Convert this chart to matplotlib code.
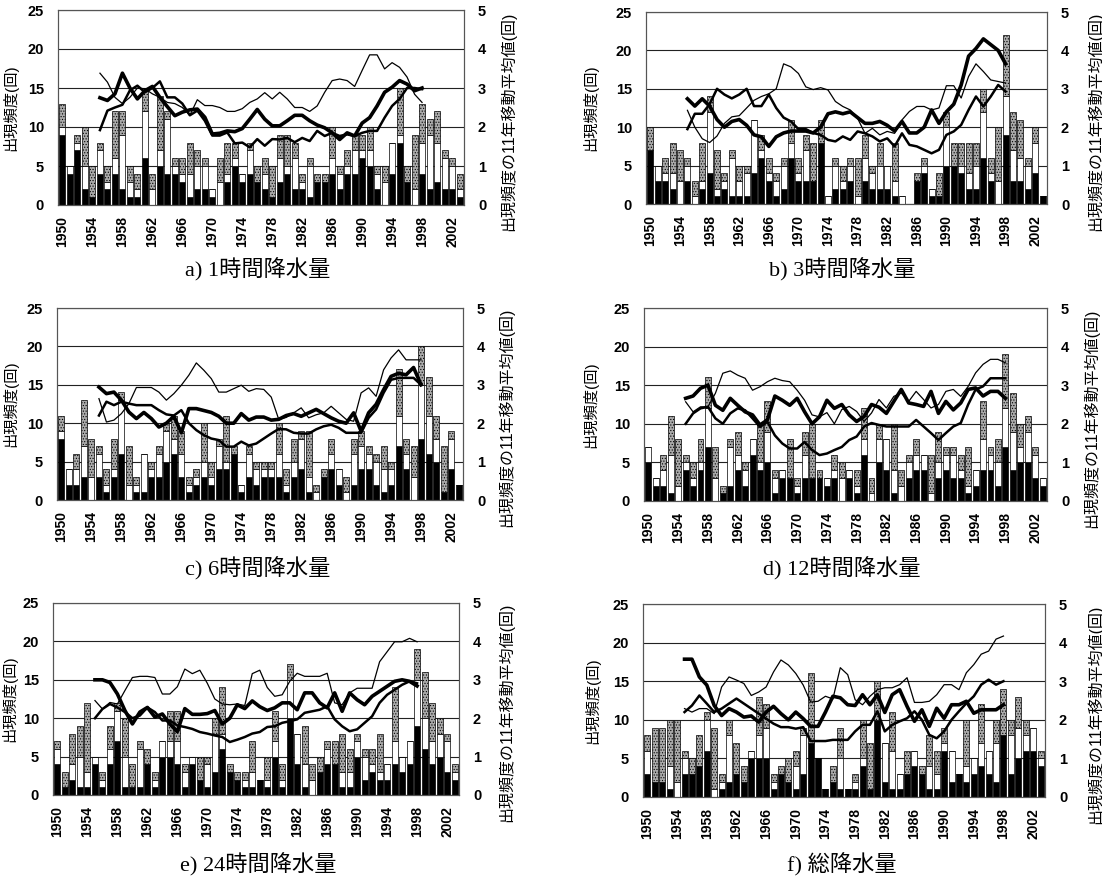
import numpy as np
import matplotlib
matplotlib.use("Agg")
import matplotlib.pyplot as plt

plt.rcParams['font.family'] = ['Liberation Sans', 'Noto Sans CJK JP']
plt.rcParams['font.weight'] = 'bold'
plt.rcParams['hatch.color'] = '#6a6a6a'
plt.rcParams['hatch.linewidth'] = 0.5

years = list(range(1950, 2004))
ma_years = list(range(1955, 1999))
tick_years = list(range(1950, 2004, 4))

# a) 1時間降水量
a_black = [9, 4, 7, 2, 1, 4, 2, 4, 2, 1, 1, 6, 0, 5, 4, 4, 3, 1, 2, 2, 1, 0, 3, 5, 3, 4, 3, 2, 1, 3,
           4, 2, 2, 1, 3, 3, 4, 2, 4, 4, 6, 5, 2, 0, 4, 8, 3, 0, 4, 2, 3, 2, 2, 1]
a_white = [1, 1, 1, 3, 0, 3, 1, 2, 7, 2, 1, 6, 2, 2, 7, 1, 1, 3, 3, 3, 1, 3, 1, 1, 1, 3, 0, 2, 0, 3,
           1, 4, 1, 4, 0, 0, 2, 2, 1, 3, 1, 2, 2, 3, 4, 1, 0, 2, 4, 7, 5, 4, 3, 1]
a_gray = [3, 0, 1, 5, 4, 1, 2, 6, 3, 2, 2, 3, 2, 7, 1, 1, 2, 4, 2, 1, 0, 3, 4, 2, 0, 1, 2, 2, 4, 3,
          4, 2, 1, 1, 1, 1, 4, 1, 2, 2, 2, 3, 1, 2, 0, 6, 2, 7, 5, 2, 4, 1, 1, 2]
a_thin = [3.38, 3.15, 2.76, 2.6, 2.76, 3.0, 2.98, 2.85, 2.76, 2.63,
          2.6, 2.5, 2.3, 2.7, 2.55, 2.55, 2.5, 2.4, 2.4, 2.47,
          2.63, 2.72, 2.88, 2.72, 2.89, 2.72, 2.5, 2.5, 2.4, 2.54,
          2.89, 3.19, 3.23, 3.19, 3.04, 3.45, 3.85, 3.85, 3.49, 3.65,
          3.53, 3.28, 2.84, 2.63]
a_mid = [1.92, 2.42, 2.5, 2.57, 2.94, 3.06, 2.89, 3.0, 3.17, 2.76,
         2.76, 2.6, 2.3, 2.42, 2.16, 1.78, 1.78, 1.86, 1.58, 1.6,
         1.48, 1.69, 1.52, 1.69, 1.68, 1.72, 1.61, 1.72, 1.64, 1.9,
         1.77, 1.85, 1.77, 1.81, 1.77, 1.85, 1.9, 1.9, 2.24, 2.54,
         2.72, 3.0, 3.0, 2.97]
a_thick = [2.75, 2.68, 2.85, 3.38, 3.0, 2.72, 2.93, 3.04, 2.76, 2.52,
           2.29, 2.38, 2.44, 2.46, 2.25, 1.82, 1.84, 1.9, 1.88, 1.96,
           2.2, 2.45, 2.2, 2.03, 2.03, 2.16, 2.3, 2.3, 2.16, 2.05,
           1.98, 1.85, 1.68, 1.85, 1.77, 2.1, 2.24, 2.54, 2.89, 3.02,
           3.19, 3.1, 2.93, 3.0]

# b) 3時間降水量
b_black = [7, 3, 3, 2, 0, 3, 0, 2, 4, 1, 2, 1, 1, 1, 4, 6, 3, 1, 2, 6, 3, 3, 3, 8, 0, 2, 2, 3, 0, 3,
           2, 2, 2, 1, 0, 0, 3, 4, 1, 1, 5, 5, 4, 2, 2, 6, 3, 0, 9, 3, 3, 2, 4, 1]
b_white = [0, 2, 1, 2, 3, 2, 1, 1, 8, 1, 1, 5, 2, 3, 7, 1, 1, 2, 3, 2, 1, 4, 0, 0, 1, 3, 1, 2, 1, 3,
           2, 3, 3, 2, 1, 0, 0, 1, 1, 0, 5, 0, 1, 2, 3, 6, 1, 3, 5, 4, 3, 3, 4, 0]
b_gray = [3, 0, 2, 4, 4, 1, 2, 5, 2, 5, 1, 1, 2, 1, 0, 2, 2, 1, 1, 3, 2, 2, 5, 3, 0, 1, 2, 1, 5, 3,
          1, 3, 0, 5, 0, 0, 1, 1, 0, 3, 2, 3, 3, 4, 3, 3, 2, 7, 8, 5, 5, 1, 2, 0]
b_thin = [2.44, 2.0, 1.7, 1.6, 1.77, 2.1, 2.27, 2.3, 2.5, 2.7,
          2.8, 2.87, 3.0, 3.65, 3.57, 3.4, 3.05, 2.98, 3.03, 2.97,
          2.67, 2.54, 2.45, 2.23, 1.84, 1.97, 1.8, 1.89, 1.84, 2.19,
          2.41, 2.54, 2.54, 2.45, 2.5, 3.08, 3.08, 2.76, 3.32, 3.65,
          3.45, 3.23, 3.19, 3.15]
b_mid = [1.95, 2.35, 2.35, 2.6, 3.0, 2.85, 2.75, 2.85, 3.0, 2.55,
         2.55, 2.85, 2.5, 2.25, 2.15, 1.95, 1.95, 1.85, 1.8, 1.67,
         1.63, 1.76, 1.67, 1.89, 1.84, 1.76, 1.63, 1.71, 1.5, 1.84,
         1.54, 1.5, 1.41, 1.32, 1.41, 1.8, 1.89, 2.06, 2.45, 2.8,
         2.54, 2.8, 3.1, 2.93]
b_thick = [2.74, 2.55, 2.74, 2.55, 2.2, 2.0, 2.15, 2.2, 2.05, 1.8,
           1.75, 1.5, 1.75, 1.85, 1.9, 1.9, 1.9, 1.85, 2.0, 2.35,
           2.4, 2.35, 2.4, 2.25, 2.1, 2.1, 2.15, 2.05, 1.9, 2.15,
           1.85, 1.85, 2.0, 2.45, 2.1, 2.4, 2.6, 3.1, 3.85, 4.05,
           4.3, 4.15, 4.0, 3.65]

# c) 6時間降水量
c_black = [8, 2, 2, 3, 0, 3, 1, 3, 6, 0, 1, 1, 3, 3, 5, 6, 3, 1, 2, 3, 2, 4, 4, 6, 1, 3, 2, 3, 3, 3,
           1, 3, 4, 1, 0, 3, 4, 2, 0, 2, 4, 4, 2, 1, 2, 7, 4, 0, 8, 6, 5, 1, 4, 2]
c_white = [1, 2, 2, 4, 3, 3, 1, 1, 7, 2, 1, 5, 1, 3, 4, 2, 3, 1, 1, 2, 1, 3, 1, 0, 1, 3, 2, 1, 1, 3,
           1, 2, 4, 2, 1, 0, 2, 2, 1, 4, 3, 2, 3, 3, 2, 4, 2, 3, 7, 5, 3, 0, 4, 0]
c_gray = [2, 0, 2, 6, 5, 1, 2, 4, 1, 5, 1, 0, 1, 1, 1, 3, 3, 1, 1, 5, 2, 1, 6, 1, 0, 1, 1, 1, 1, 4,
          2, 3, 1, 6, 1, 1, 2, 0, 2, 2, 2, 1, 1, 3, 1, 6, 2, 4, 5, 5, 3, 6, 1, 0]
c_thin = [2.64, 2.03, 2.08, 2.25, 2.51, 2.93, 2.93, 2.93, 2.81, 2.6,
          2.77, 2.99, 3.25, 3.57, 3.38, 3.16, 2.81, 2.81, 2.9, 2.99,
          2.83, 2.9, 2.88, 2.68, 2.1, 2.15, 2.27, 2.4, 2.14, 2.22,
          2.27, 2.44, 2.27, 2.1, 2.05, 2.79, 2.92, 2.7, 3.39, 3.7,
          3.91, 3.65, 3.65, 3.65]
c_mid = [2.2, 2.56, 2.47, 2.56, 2.51, 2.47, 2.47, 2.47, 2.34, 2.23,
         2.2, 2.34, 2.0, 1.82, 1.69, 1.6, 1.56, 1.39, 1.39, 1.52,
         1.42, 1.47, 1.6, 1.73, 1.85, 1.84, 1.75, 1.73, 1.73, 1.84,
         1.92, 1.96, 1.88, 1.75, 1.75, 1.75, 2.14, 2.36, 2.79, 3.13,
         3.18, 3.18, 3.18, 3.0]
c_thick = [2.94, 2.77, 2.81, 2.6, 2.29, 2.12, 2.28, 2.12, 1.9, 2.0,
           2.18, 1.75, 2.38, 2.38, 2.33, 2.28, 2.18, 2.0, 2.0, 2.25,
           2.08, 2.16, 2.16, 2.08, 2.1, 2.2, 2.25, 2.18, 2.27, 2.36,
           2.25, 2.14, 2.05, 2.0, 2.27, 1.79, 2.27, 2.49, 2.87, 3.22,
           3.3, 3.26, 3.45, 3.0]

# d) 12時間降水量
d_black = [5, 2, 2, 1, 0, 4, 2, 4, 7, 0, 1, 2, 4, 2, 6, 4, 5, 1, 3, 3, 1, 3, 3, 3, 2, 3, 0, 3, 1, 6,
           0, 5, 4, 1, 0, 3, 4, 4, 0, 3, 4, 3, 3, 1, 2, 4, 4, 2, 7, 4, 5, 5, 3, 2]
d_white = [2, 1, 2, 5, 2, 1, 1, 1, 5, 3, 0, 5, 2, 2, 2, 1, 4, 2, 1, 0, 1, 3, 0, 0, 1, 1, 3, 1, 1, 2,
           1, 3, 4, 3, 2, 2, 2, 2, 1, 2, 2, 3, 1, 1, 2, 4, 2, 3, 5, 5, 2, 4, 3, 1]
d_gray = [0, 0, 2, 5, 6, 1, 2, 3, 4, 4, 1, 1, 3, 1, 0, 5, 4, 1, 0, 5, 1, 3, 7, 1, 0, 2, 2, 0, 2, 4,
          2, 2, 0, 6, 2, 1, 2, 0, 5, 4, 1, 1, 2, 5, 0, 5, 1, 3, 7, 5, 3, 2, 1, 0]
d_thin = [2.57, 2.31, 2.44, 2.44, 2.79, 3.31, 3.37, 3.26, 3.18, 2.87,
          2.96, 3.09, 3.18, 3.12, 3.09, 2.87, 2.61, 2.23, 2.18, 2.29,
          2.0, 2.37, 2.45, 2.32, 2.06, 2.28, 2.63, 2.41, 2.71, 2.8,
          2.58, 2.84, 2.63, 2.41, 2.5, 2.84, 2.89, 2.71, 2.97, 3.32,
          3.54, 3.67, 3.67, 3.58]
d_mid = [2.0, 2.27, 2.4, 2.44, 2.14, 2.0, 2.27, 2.4, 2.35, 2.14,
         1.92, 2.05, 1.7, 1.49, 1.36, 1.36, 1.53, 1.32, 1.19, 1.23,
         1.32, 1.4, 1.58, 1.67, 1.93, 2.02, 1.97, 1.93, 1.93, 1.93,
         1.93, 2.1, 1.93, 1.76, 1.58, 1.76, 1.93, 2.02, 2.5, 2.89,
         2.97, 3.18, 3.18, 3.18]
d_thick = [2.66, 2.72, 2.92, 3.0, 2.48, 2.35, 2.66, 2.48, 2.31, 2.23,
           1.97, 2.1, 2.72, 2.61, 2.48, 2.66, 2.31, 2.0, 2.18, 2.61,
           2.4, 2.5, 2.23, 2.06, 2.19, 2.5, 2.43, 2.27, 2.58, 2.89,
           2.54, 2.5, 2.45, 2.84, 2.27, 2.58, 2.36, 2.54, 2.89, 2.93,
           2.72, 2.84, 2.84, 2.66]

# e) 24時間降水量
e_black = [4, 1, 2, 1, 1, 4, 1, 4, 7, 1, 1, 1, 4, 1, 5, 5, 4, 1, 4, 2, 1, 3, 6, 3, 2, 1, 1, 2, 1, 5,
           1, 10, 4, 1, 0, 3, 4, 4, 1, 1, 5, 2, 3, 2, 2, 4, 3, 4, 9, 6, 4, 5, 3, 2]
e_white = [2, 0, 2, 4, 2, 1, 1, 2, 4, 4, 0, 5, 0, 1, 2, 2, 3, 2, 1, 0, 3, 5, 2, 0, 0, 1, 2, 0, 1, 2,
           1, 5, 4, 3, 2, 0, 2, 0, 2, 2, 2, 3, 1, 1, 2, 3, 2, 3, 6, 4, 3, 3, 4, 1]
e_gray = [1, 2, 4, 4, 9, 0, 1, 3, 1, 5, 3, 1, 2, 1, 0, 4, 4, 1, 0, 3, 1, 2, 6, 1, 1, 1, 4, 0, 3, 4,
          2, 2, 0, 5, 2, 2, 1, 3, 5, 3, 1, 1, 2, 5, 0, 7, 0, 0, 4, 6, 5, 2, 1, 1]
e_thin = [2.46, 2.24, 2.41, 2.37, 2.72, 3.06, 3.09, 3.09, 3.06, 2.63,
          2.63, 2.82, 3.28, 3.16, 3.25, 2.91, 2.5, 2.37, 2.35, 2.37,
          2.33, 3.16, 3.25, 2.8, 2.57, 2.61, 2.96, 3.17, 3.09, 3.09,
          3.09, 3.17, 2.4, 2.35, 2.66, 2.78, 2.78, 2.78, 3.47, 3.73,
          3.99, 3.99, 4.08, 3.99]
e_mid = [2.0, 2.24, 2.37, 2.28, 2.16, 2.0, 2.07, 2.28, 2.16, 1.94,
         1.94, 1.81, 1.77, 1.72, 1.64, 1.6, 1.55, 1.51, 1.38, 1.44,
         1.51, 1.6, 1.64, 1.77, 1.79, 1.88, 1.92, 1.97, 2.14, 2.18,
         2.22, 2.31, 1.97, 1.79, 1.66, 1.71, 1.88, 2.05, 2.4, 2.61,
         2.74, 2.87, 2.96, 2.91]
e_thick = [3.0, 3.0, 2.93, 2.63, 2.2, 1.85, 2.16, 2.28, 2.03, 2.11,
           1.85, 1.65, 2.25, 2.1, 2.1, 2.12, 2.2, 1.85, 2.0, 2.35,
           2.25, 2.45, 2.3, 2.2, 2.27, 2.4, 2.4, 2.22, 2.66, 2.66,
           2.4, 2.27, 2.66, 2.18, 2.66, 2.48, 2.35, 2.57, 2.7, 2.83,
           2.96, 3.0, 2.96, 2.84]

# f) 総降水量
f_black = [3, 2, 2, 1, 0, 3, 3, 4, 6, 0, 1, 2, 3, 2, 5, 5, 5, 1, 3, 2, 1, 3, 7, 5, 1, 2, 1, 1, 1, 4,
           1, 10, 2, 1, 1, 3, 4, 3, 1, 1, 6, 2, 3, 2, 3, 4, 3, 2, 8, 3, 5, 6, 6, 4]
f_white = [3, 0, 0, 3, 2, 2, 0, 0, 4, 1, 1, 6, 0, 0, 1, 3, 4, 1, 0, 0, 3, 5, 0, 0, 0, 0, 4, 0, 1, 1,
           0, 0, 5, 5, 2, 0, 2, 0, 3, 2, 1, 4, 0, 2, 2, 3, 3, 5, 0, 5, 4, 2, 3, 1]
f_gray = [2, 7, 7, 6, 8, 1, 2, 4, 1, 8, 1, 2, 4, 2, 0, 5, 3, 1, 1, 3, 2, 1, 9, 0, 0, 2, 4, 0, 1, 5,
          6, 5, 0, 5, 0, 3, 0, 1, 4, 3, 2, 0, 0, 6, 0, 5, 0, 3, 6, 2, 4, 2, 0, 1]
f_thin = [2.29, 2.2, 2.29, 2.29, 2.16, 2.85, 3.11, 3.03, 2.94, 2.63,
          2.72, 2.85, 3.24, 3.55, 3.42, 3.2, 2.9, 2.46, 2.48, 2.61,
          2.54, 3.35, 3.17, 2.52, 2.39, 2.61, 2.78, 2.83, 2.83, 2.91,
          3.09, 2.45, 2.45, 2.48, 2.65, 2.91, 2.91, 2.78, 3.22, 3.43,
          3.7, 3.78, 4.09, 4.17]
f_mid = [2.2, 2.37, 2.63, 2.42, 2.2, 2.29, 2.42, 2.55, 2.42, 2.29,
         2.16, 2.03, 1.9, 1.81, 1.81, 1.77, 1.81, 1.45, 1.45, 1.45,
         1.48, 1.48, 1.48, 1.7, 1.87, 1.87, 2.22, 1.7, 1.87, 1.96,
         2.04, 2.22, 2.0, 1.61, 1.52, 1.7, 2.0, 2.22, 2.43, 2.61,
         2.91, 3.04, 2.91, 3.0]
f_thick = [3.57, 3.57, 3.11, 2.9, 2.37, 2.11, 2.29, 2.2, 2.07, 2.1,
           1.94, 2.2, 2.35, 2.16, 2.0, 2.2, 2.03, 1.83, 1.83, 2.2,
           2.61, 2.57, 2.39, 2.37, 2.65, 2.39, 2.65, 2.19, 2.65, 2.78,
           2.35, 1.96, 2.26, 1.83, 2.3, 2.04, 2.39, 2.39, 2.48, 2.17,
           2.26, 2.26, 2.26, 2.39]

panels = [
    ("a) 1時間降水量", a_black, a_white, a_gray, a_thin, a_mid, a_thick),
    ("b) 3時間降水量", b_black, b_white, b_gray, b_thin, b_mid, b_thick),
    ("c) 6時間降水量", c_black, c_white, c_gray, c_thin, c_mid, c_thick),
    ("d) 12時間降水量", d_black, d_white, d_gray, d_thin, d_mid, d_thick),
    ("e) 24時間降水量", e_black, e_white, e_gray, e_thin, e_mid, e_thick),
    ("f) 総降水量", f_black, f_white, f_gray, f_thin, f_mid, f_thick),
]

# plot boxes in pixels: left, top, right, bottom
boxes = [(58, 10, 464, 205), (646, 12, 1047, 204),
         (57, 308, 463, 500), (644, 308, 1047, 501),
         (53, 603, 459, 795), (643, 604, 1045, 797)]
# x centre (pixels) of the left and right axis titles
left_label_x = [18, 598, 18, 598, 17, 600]
right_label_x = [500, 1087, 498, 1083, 498, 1087]
caption_y = [270, 270, 569, 569, 865, 865]

W, H = 1102, 881
fig = plt.figure(figsize=(W / 100, H / 100), dpi=100)

for i, (cap, blk, wht, gry, thin, mid, thick) in enumerate(panels):
    l, t, r, b = boxes[i]
    ax = fig.add_axes([l / W, 1 - b / H, (r - l) / W, (b - t) / H])
    blk = np.array(blk)
    wht = np.array(wht)
    gry = np.array(gry)
    ax.bar(years, blk, width=0.8, color='black', edgecolor='black', lw=0.5)
    ax.bar(years, wht, bottom=blk, width=0.8, color='white', edgecolor='black', lw=0.5)
    ax.bar(years, gry, bottom=blk + wht, width=0.8, color='#aaaaaa',
           edgecolor='black', lw=0.5, hatch='......')
    ax.set_xlim(1949.4, 2003.6)
    ax.set_ylim(0, 25)
    ax.set_yticks(range(0, 26, 5))
    ax.set_xticks(tick_years)
    ax.set_xticklabels([str(y) for y in tick_years], rotation=90)
    ax.grid(axis='y', color='#222222', lw=0.8)
    ax.set_axisbelow(True)
    ax.tick_params(axis='y', length=0, labelsize=10.5, pad=10)
    ax.tick_params(axis='x', length=0, labelsize=10, pad=8)
    for s in ax.spines.values():
        s.set_color('#555555')
        s.set_linewidth(0.8)
    ax.set_ylabel("出現頻度(回)", fontsize=11)
    ax.yaxis.set_label_coords((left_label_x[i] - l) / (r - l), 0.5)

    ax2 = ax.twinx()
    ax2.plot(ma_years, thin, color='black', lw=0.9)
    ax2.plot(ma_years, mid, color='black', lw=1.8)
    ax2.plot(ma_years, thick, color='black', lw=2.6)
    ax2.set_ylim(0, 5)
    ax2.set_yticks(range(6))
    ax2.tick_params(axis='y', length=0, labelsize=10.5, pad=10)
    for s in ax2.spines.values():
        s.set_color('#555555')
        s.set_linewidth(0.8)
    ax2.set_ylabel("出現頻度の11年移動平均値(回)", fontsize=11.5)
    ax2.yaxis.set_label_coords((right_label_x[i] - l) / (r - l), 0.43)

    cx = 258 if i % 2 == 0 else 842
    fig.text(cx / W, 1 - caption_y[i] / H, cap, ha='center', va='center',
             fontsize=16, fontweight='normal',
             family=['Liberation Serif', 'Noto Sans CJK JP'])

fig.savefig("out.png", dpi=100)
